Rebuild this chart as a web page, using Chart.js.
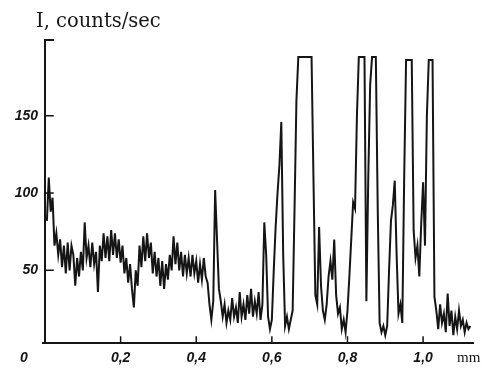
<!doctype html>
<html>
<head>
    <title>Counts vs distance</title>
    <script src="https://cdn.jsdelivr.net/npm/chart.js"></script>
    <style>
        body { margin: 0; background: #fff; }
    </style>
</head>
<body>
    <canvas id="trace" width="485" height="374"></canvas>

    <script>
        // tick positions and labels (mm, counts/sec)
        var xTickValues = [0, 0.2, 0.4, 0.6, 0.8, 1.0];
        var xTickLabels = ['0', '0,2', '0,4', '0,6', '0,8', '1,0'];
        var yTickValues = [50, 100, 150];

        // scan samples: first position and spacing along the x axis (mm)
        var firstMm = 0.005;
        var stepMm = 0.005;

        // counts/sec, one per sample
        var counts = [
            82, 110, 88, 97, 66, 74, 60, 70, 52, 66,
            48, 68, 50, 66, 60, 40, 58, 46, 62, 50,
            81, 58, 66, 52, 68, 54, 62, 36, 66, 56,
            74, 58, 72, 56, 76, 60, 74, 58, 70, 55,
            66, 48, 58, 42, 54, 38, 26, 50, 40, 66,
            52, 72, 56, 74, 58, 68, 48, 62, 46, 58,
            40, 56, 38, 54, 44, 60, 50, 72, 54, 68,
            50, 62, 46, 60, 48, 58, 46, 60, 48, 56,
            42, 54, 44, 58, 46, 42, 28, 18, 30, 102,
            70, 38, 30, 20, 28, 16, 24, 18, 32, 20,
            26, 16, 36, 20, 28, 18, 34, 22, 38, 20,
            30, 22, 36, 18, 28, 81, 60, 20, 12, 18,
            50, 78, 100, 118, 146, 60, 14, 20, 12, 18,
            24, 90, 160, 188, 188, 188, 188, 188, 188, 188,
            188, 110, 34, 28, 78, 40, 24, 18, 28, 46,
            56, 44, 70, 34, 22, 26, 12, 18, 10, 24,
            46, 70, 94, 90, 150, 188, 188, 188, 188, 30,
            110, 170, 188, 188, 188, 90, 16, 10, 14, 8,
            14, 50, 82, 92, 108, 60, 22, 28, 16, 110,
            186, 186, 186, 186, 76, 58, 66, 46, 80, 107,
            66, 150, 186, 186, 186, 33, 24, 12, 28, 16,
            22, 10, 35, 14, 24, 8, 20, 12, 24, 14,
            18, 10, 16, 12, 14
        ];

        var points = counts.map(function (c, i) {
            return { x: firstMm + i * stepMm, y: c };
        });

        var ink = '#151515';

        var axesPlugin = {
            id: 'axesPlugin',
            afterDraw: function (chart) {
                var ctx = chart.ctx;
                var xs = chart.scales.x;
                var ys = chart.scales.y;
                var area = chart.chartArea;

                ctx.save();
                ctx.strokeStyle = ink;
                ctx.lineWidth = 2;
                ctx.lineCap = 'square';

                // axis lines, with the small cap at the top of the y axis
                ctx.beginPath();
                ctx.moveTo(area.left + 8, area.top);
                ctx.lineTo(area.left, area.top);
                ctx.lineTo(area.left, area.bottom);
                ctx.moveTo(area.left - 2, area.bottom);
                ctx.lineTo(area.right, area.bottom);
                ctx.stroke();

                // inward ticks
                ctx.lineWidth = 1.5;
                ctx.beginPath();
                yTickValues.forEach(function (v) {
                    var py = ys.getPixelForValue(v);
                    ctx.moveTo(area.left, py);
                    ctx.lineTo(area.left + 8, py);
                });
                xTickValues.forEach(function (v) {
                    if (v === 0) return;
                    var px = xs.getPixelForValue(v);
                    ctx.moveTo(px, area.bottom);
                    ctx.lineTo(px, area.bottom - 6);
                });
                ctx.stroke();

                // tick labels
                ctx.fillStyle = ink;
                ctx.font = 'italic bold 14px "Liberation Sans", Arial, sans-serif';
                ctx.textAlign = 'right';
                ctx.textBaseline = 'middle';
                yTickValues.forEach(function (v) {
                    ctx.fillText(String(v), area.left - 7, ys.getPixelForValue(v));
                });

                ctx.textAlign = 'center';
                ctx.textBaseline = 'alphabetic';
                xTickValues.forEach(function (v, i) {
                    var px = xs.getPixelForValue(v);
                    if (v === 0) px -= 21;
                    ctx.fillText(xTickLabels[i], px, area.bottom + 19);
                });

                // unit and axis title
                ctx.textAlign = 'left';
                ctx.font = '15px "Liberation Serif", "DejaVu Serif", serif';
                ctx.fillText('mm', area.right - 16, area.bottom + 19);

                ctx.font = '19.5px "DejaVu Serif", "Liberation Serif", serif';
                ctx.fillText('I, counts/sec', 36, 27);
                ctx.restore();
            }
        };

        var traceChart = new Chart(document.getElementById('trace').getContext('2d'), {
            type: 'line',
            data: {
                datasets: [{
                    data: points,
                    borderColor: ink,
                    borderWidth: 2,
                    pointRadius: 0,
                    tension: 0,
                    fill: false
                }]
            },
            options: {
                responsive: false,
                animation: false,
                layout: {
                    padding: { top: 40, right: 12, left: 0, bottom: 0 }
                },
                plugins: {
                    legend: { display: false },
                    tooltip: { enabled: false }
                },
                scales: {
                    x: {
                        type: 'linear',
                        min: 0,
                        max: 1.132,
                        ticks: { display: false },
                        grid: { display: false },
                        border: { display: false },
                        afterFit: function (scale) { scale.height = 31; }
                    },
                    y: {
                        min: 3,
                        max: 199,
                        ticks: { display: false },
                        grid: { display: false },
                        border: { display: false },
                        afterFit: function (scale) { scale.width = 45; }
                    }
                }
            },
            plugins: [axesPlugin]
        });
    </script>
</body>
</html>
